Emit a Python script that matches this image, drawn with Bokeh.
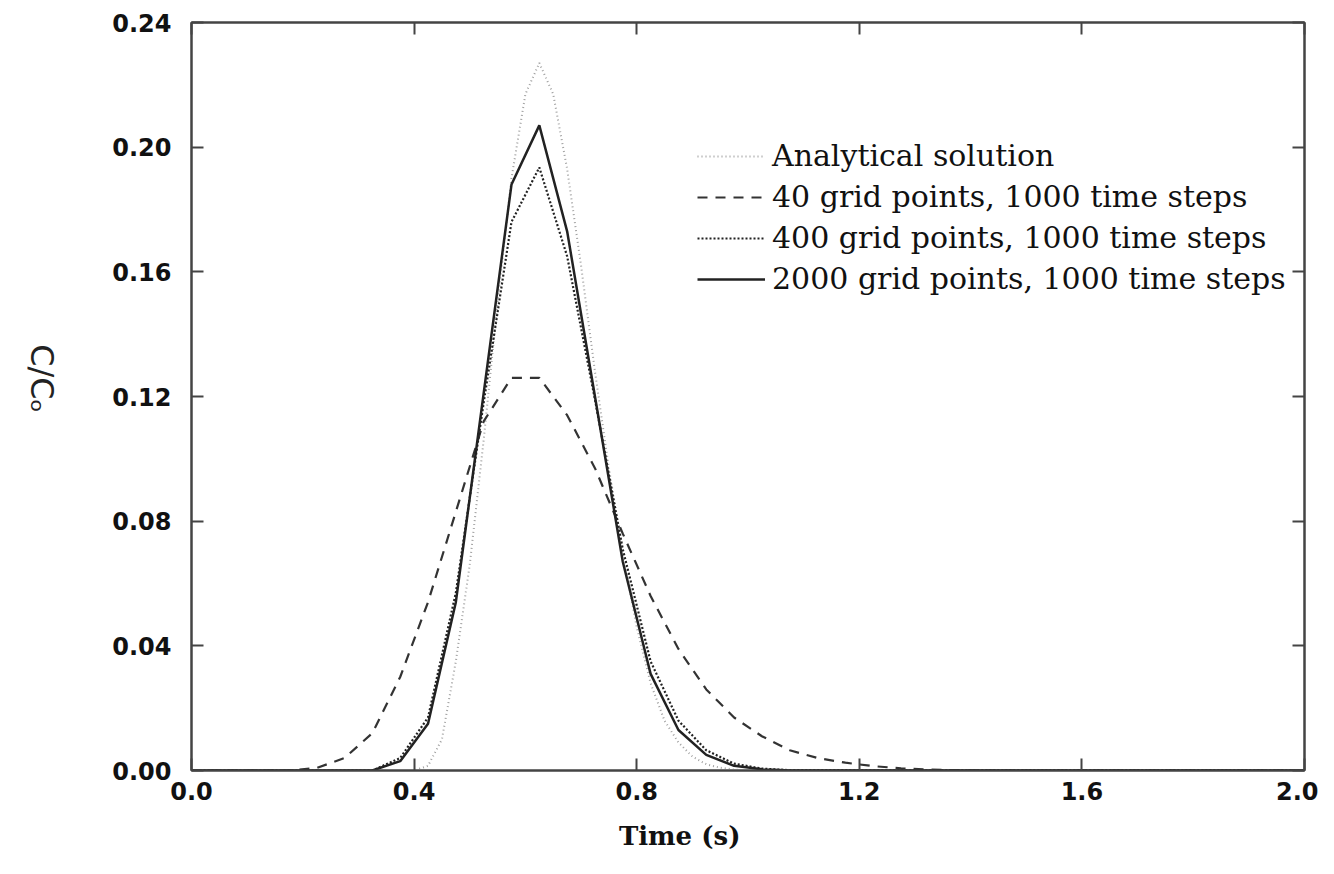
import math
from bokeh.plotting import figure
from bokeh.layouts import row, column
from bokeh.models import (LinearAxis, FixedTicker, PrintfTickFormatter, Label, Legend, LegendItem, Range1d)
from bokeh.embed import file_html
from bokeh.resources import INLINE

# ---- data ----
x_ticks = [0.0, 0.4, 0.8, 1.2, 1.6, 2.0]
y_ticks = [0.0, 0.04, 0.08, 0.12, 0.16, 0.20, 0.24]

analytical_t = [0.0, 0.40, 0.425, 0.45, 0.475, 0.50, 0.525, 0.55, 0.575, 0.60, 0.625, 0.65, 0.675,
                0.70, 0.725, 0.75, 0.775, 0.80, 0.825, 0.85, 0.875, 0.90, 0.925, 0.95, 0.975, 1.0, 2.0]
analytical_c = [0.0, 0.0, 0.0015, 0.010, 0.035, 0.066, 0.106, 0.150, 0.190, 0.217, 0.227, 0.217, 0.193,
                0.162, 0.128, 0.097, 0.070, 0.046, 0.028, 0.016, 0.009, 0.0045, 0.002, 0.0009, 0.0003, 0.0001, 0.0]

grid40_t = [0.0, 0.175, 0.225, 0.275, 0.325, 0.375, 0.425, 0.475, 0.525, 0.575, 0.625, 0.675, 0.725,
            0.775, 0.825, 0.875, 0.925, 0.975, 1.025, 1.075, 1.125, 1.175, 1.225, 1.275, 1.325, 1.375,
            1.425, 1.475, 2.0]
grid40_c = [0.0, 0.0, 0.0008, 0.004, 0.012, 0.030, 0.054, 0.083, 0.112, 0.126, 0.126, 0.114, 0.097,
            0.076, 0.056, 0.039, 0.026, 0.017, 0.011, 0.0065, 0.004, 0.0025, 0.0014, 0.0007, 0.0003, 0.0001,
            0.0, 0.0, 0.0]

grid400_t = [0.0, 0.325, 0.375, 0.425, 0.475, 0.525, 0.575, 0.625, 0.675, 0.725, 0.775, 0.825, 0.875,
             0.925, 0.975, 1.025, 1.075, 2.0]
grid400_c = [0.0, 0.0, 0.004, 0.017, 0.057, 0.118, 0.176, 0.1935, 0.165, 0.119, 0.071, 0.035, 0.016,
             0.0065, 0.0022, 0.0006, 0.0001, 0.0]

grid2000_t = [0.0, 0.325, 0.375, 0.425, 0.475, 0.525, 0.575, 0.625, 0.675, 0.725, 0.775, 0.825, 0.875,
              0.925, 0.975, 1.025, 1.075, 2.0]
grid2000_c = [0.0, 0.0, 0.003, 0.015, 0.054, 0.121, 0.188, 0.207, 0.173, 0.120, 0.067, 0.031, 0.013,
              0.005, 0.0015, 0.0004, 0.0, 0.0]

labels = ["Analytical solution",
          "40 grid points, 1000 time steps",
          "400 grid points, 1000 time steps",
          "2000 grid points, 1000 time steps"]
y_label = "C/Cₒ"
x_label = "Time (s)"

# ---- layout constants ----
H = 858
LW = 80            # width of the y-label strip
PW = 1318 - LW     # main figure width
PH = 810           # main figure height
XH = H - PH        # x-label strip height


def strip(w, h):
    f = figure(width=w, height=h, output_backend="svg", toolbar_location=None,
               x_range=Range1d(0, w), y_range=Range1d(0, h), min_border=0)
    f.axis.visible = False
    f.grid.visible = False
    f.outline_line_color = None
    return f


# ---- y label strip ----
lab = strip(LW, H)
lab.add_layout(Label(x=41, y=H - 378, text=y_label, angle=-math.pi / 2,
                     text_font="DejaVu Sans", text_font_size="32px", text_color="#222222",
                     text_align="center", text_baseline="middle"))

# ---- x label strip ----
xl = strip(PW, XH)
xl.add_layout(Label(x=543, y=XH - 25, text=x_label,
                    text_font="DejaVu Serif", text_font_style="bold", text_font_size="26px",
                    text_color="#111111", text_align="center", text_baseline="middle"))

# ---- main figure ----
p = figure(width=PW, height=PH, output_backend="svg", toolbar_location=None,
           x_range=Range1d(0, 2.0), y_range=Range1d(0, 0.24),
           min_border_left=191 - LW, min_border_right=14, min_border_top=22, min_border_bottom=PH - 770)
p.grid.visible = False
p.outline_line_color = "#444444"
p.outline_line_width = 2
p.background_fill_color = "white"
p.border_fill_color = "white"

for ax in (p.xaxis[0], p.yaxis[0]):
    ax.major_tick_in = 12
    ax.major_tick_out = 0
    ax.minor_tick_line_color = None
    ax.major_tick_line_color = "#444444"
    ax.major_tick_line_width = 2
    ax.axis_line_color = "#444444"
    ax.axis_line_width = 2
    ax.major_label_text_font = "DejaVu Sans"
    ax.major_label_text_font_style = "bold"
    ax.major_label_text_font_size = "24px"
    ax.major_label_text_color = "#111111"

p.xaxis[0].ticker = FixedTicker(ticks=x_ticks)
p.xaxis[0].formatter = PrintfTickFormatter(format="%.1f")
p.xaxis[0].major_label_standoff = 11

p.yaxis[0].ticker = FixedTicker(ticks=y_ticks)
p.yaxis[0].formatter = PrintfTickFormatter(format="%.2f")
p.yaxis[0].major_label_standoff = 20

for side in ("right", "above"):
    ticks = y_ticks if side == "right" else x_ticks
    ax = LinearAxis(ticker=FixedTicker(ticks=ticks))
    ax.major_tick_in = 12
    ax.major_tick_out = 0
    ax.minor_tick_line_color = None
    ax.major_tick_line_color = "#444444"
    ax.major_tick_line_width = 2
    ax.axis_line_color = "#444444"
    ax.axis_line_width = 2
    ax.major_label_overrides = {t: "" for t in ticks}
    ax.major_label_standoff = 0
    p.add_layout(ax, side)

# ---- lines ----
r_an = p.line(analytical_t, analytical_c, line_color="#a0a0a0", line_width=2, line_dash="1 3")
r_40 = p.line(grid40_t, grid40_c, line_color="#333333", line_width=2.2, line_dash="10 8")
r_400 = p.line(grid400_t, grid400_c, line_color="#222222", line_width=2.2, line_dash="2 2")
r_2000 = p.line(grid2000_t, grid2000_c, line_color="#222222", line_width=2.5)

legend = Legend(items=[LegendItem(label=labels[0], renderers=[r_an]),
                       LegendItem(label=labels[1], renderers=[r_40]),
                       LegendItem(label=labels[2], renderers=[r_400]),
                       LegendItem(label=labels[3], renderers=[r_2000])],
                location=(506, 474), glyph_width=68, glyph_height=34, label_height=34,
                spacing=6, padding=0, margin=0, label_standoff=7,
                label_text_font="DejaVu Serif", label_text_font_size="30px",
                label_text_color="#111111",
                border_line_alpha=0, background_fill_alpha=0)
p.add_layout(legend, "center")

open("out.html", "w").write(file_html(row(lab, column(p, xl)), INLINE))
